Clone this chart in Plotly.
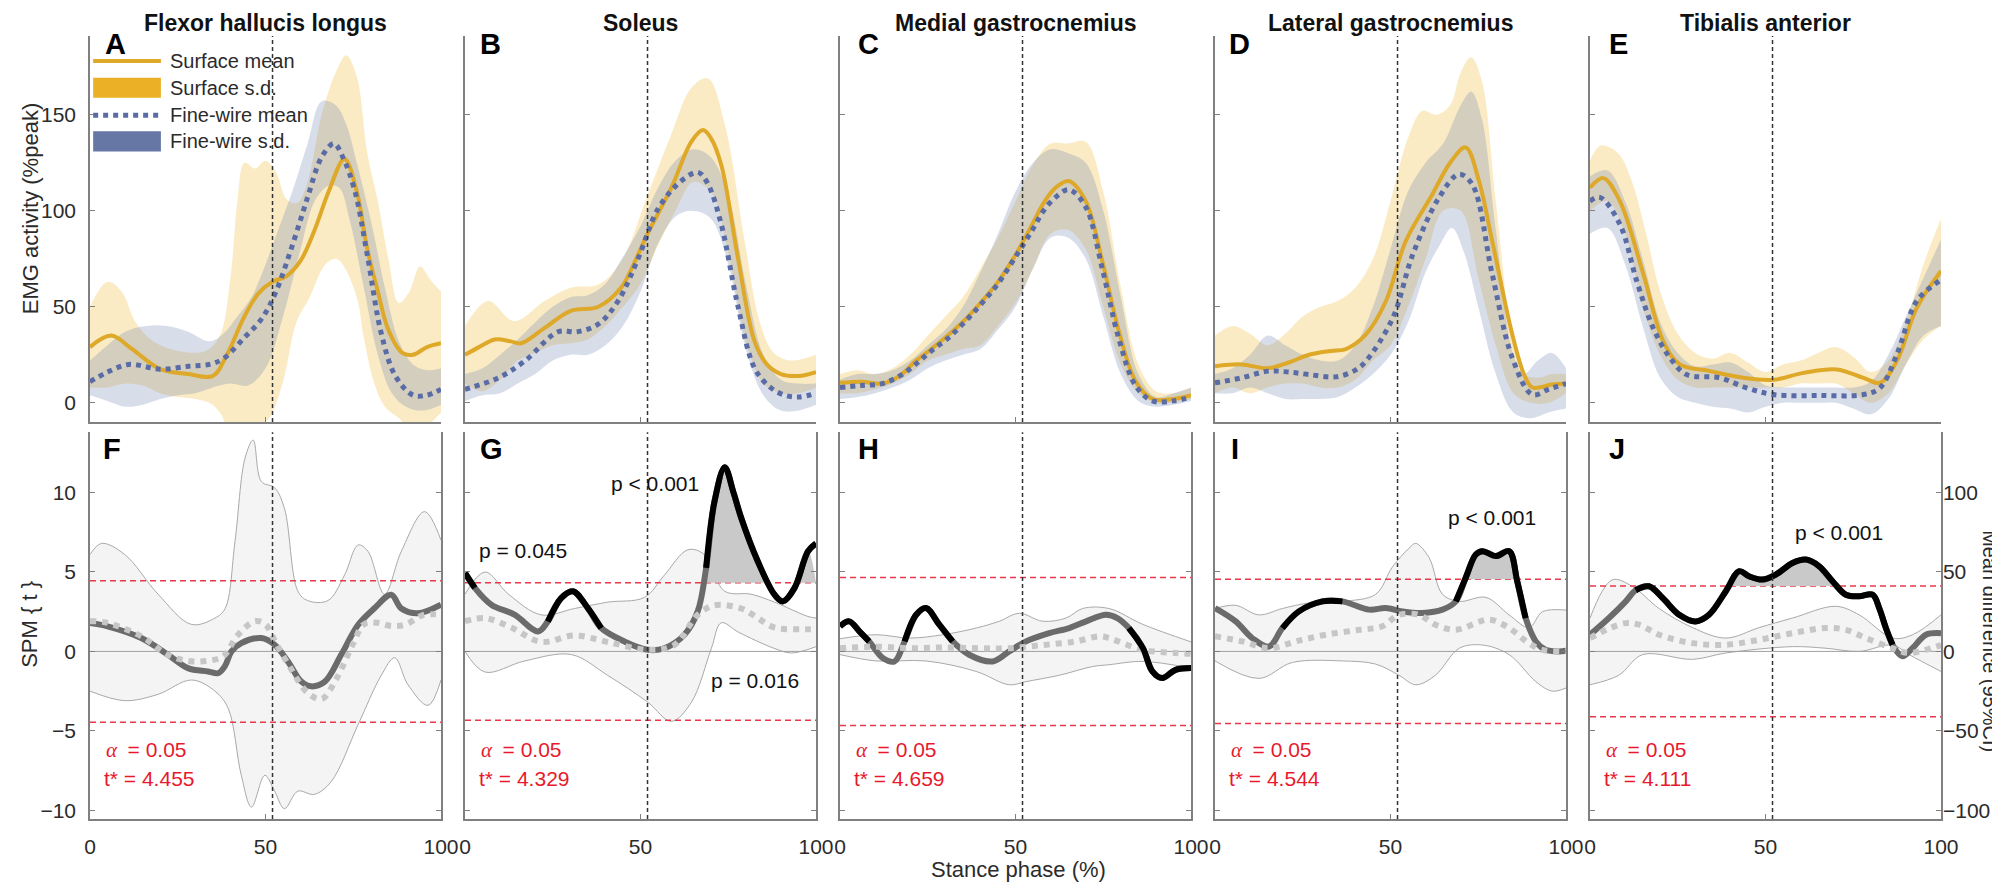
import plotly.graph_objects as go

# ---------------- data ----------------
MUSCLES = ["Flexor hallucis longus", "Soleus", "Medial gastrocnemius",
           "Lateral gastrocnemius", "Tibialis anterior"]
TOP_LETTERS = ["A", "B", "C", "D", "E"]
BOTTOM_LETTERS = ["F", "G", "H", "I", "J"]
T_CRIT = [4.455, 4.329, 4.659, 4.544, 4.111]
ALPHA = 0.05
TOE_OFF = 52  # dashed vertical marker, % stance

# EMG activity (%peak): (stance %, value)
FHL_SURF_MEAN = [(0, 29), (6, 35), (12, 28), (20, 17.5), (28, 15), (35, 14), (39, 25), (44, 45), (48, 57),
                 (52, 63), (56, 66), (60, 74), (64, 90), (68, 110), (72.5, 127), (76, 110), (79, 80),
                 (82, 58), (85, 38), (89, 26), (92, 25), (96, 29), (100, 31)]
FHL_FINE_MEAN = [(0, 11), (5, 16), (11, 20), (20, 17.5), (28, 19), (34, 20), (38, 23), (44, 34), (49, 44),
                 (53, 58), (58, 84), (62, 107), (66, 128), (69.5, 135), (72, 128), (75.5, 110), (79, 77),
                 (83, 36), (87, 14), (92, 4), (96, 4), (100, 7)]
FHL_SURF_HI = [(0, 50), (5, 63), (9, 58), (13, 42), (18, 32), (25, 27), (33, 27), (37, 35), (40, 65),
               (42, 105), (44, 125), (47, 122), (50, 126), (53, 120), (56, 106), (59, 104), (62, 115),
               (66, 150), (70, 172), (73, 181), (76, 170), (79, 130), (82, 105), (85, 75), (88, 52),
               (91, 58), (94, 71), (97, 64), (100, 58)]
FHL_SURF_LO = [(0, 8), (5, 8), (10, 10), (15, 9), (20, 5), (25, 3), (30, 2), (34, 0), (37, -5), (40, -15),
               (44, -15), (48, -12), (51, -8), (55, 11), (58.8, 42), (62.6, 55), (67, 72), (70, 75),
               (72, 72), (76, 55), (78, 34), (81, 10), (84, -2), (88, -8), (92, -15), (96, -12), (100, -5)]
FHL_FINE_HI = [(0, 22), (5, 30), (10, 37), (16, 40), (22, 40), (28, 37), (34, 32), (38, 36), (42, 45),
               (46, 55), (50, 72), (54, 92), (58, 112), (62, 135), (66, 157), (70, 155), (73, 145),
               (76, 125), (80, 95), (84, 60), (88, 32), (92, 20), (96, 17), (100, 18)]
FHL_FINE_LO = [(0, 4), (5, 1), (10, -2), (15, -1), (20, 2), (25, 4), (30, 5), (35, 8), (40, 10), (45, 9),
               (50, 18), (55, 45), (60, 80), (64, 105), (68, 113), (71, 112), (74, 95), (78, 60),
               (82, 25), (86, 5), (90, -2), (95, -4), (100, -1)]

SOL_SURF_MEAN = [(0, 25), (4, 29), (8.5, 33), (13, 32), (16, 31), (22.7, 39), (30, 47.8), (38, 50),
                 (44.5, 60), (48, 72), (52, 88), (58.8, 112), (64.5, 136), (67.8, 142), (70, 138),
                 (73, 124), (77.8, 75), (82.5, 32), (86, 20), (90, 15), (95, 14), (100, 16)]
SOL_FINE_MEAN = [(0, 7), (9.5, 13), (17, 21.7), (26.5, 37), (32, 37), (38, 41), (43.6, 53), (49.3, 75),
                 (55, 101), (61.6, 115.5), (66.4, 120), (69.2, 114), (73, 93), (77.8, 50), (82.5, 18),
                 (87, 8), (91, 4), (95, 3), (100, 5)]
SOL_SURF_HI = [(0, 40), (6.6, 53), (14, 42.5), (22.7, 53), (30.3, 60), (38, 61.6), (44.5, 73.6),
               (52, 108), (58.8, 140), (64.5, 164), (69.2, 169), (74, 145), (79.7, 84), (84, 42),
               (88, 26), (93, 22), (100, 25)]
SOL_SURF_LO = [(0, 10), (5, 6), (10, 12), (15, 22), (20, 26), (25, 30), (30, 31), (35, 33), (40, 40),
               (45, 50), (50, 62), (55, 82), (60, 100), (65, 115), (70, 110), (75, 78), (80, 32),
               (85, 10), (90, 5), (95, 5), (100, 8)]
SOL_FINE_HI = [(0, 15), (5, 18), (10, 25), (15, 33), (20, 42), (25, 50), (30, 55), (35, 56), (40, 62),
               (45, 76), (50, 92), (55, 112), (60, 126), (65, 132), (70, 128), (75, 108), (80, 62),
               (85, 25), (90, 12), (95, 10), (100, 10)]
SOL_FINE_LO = [(0, 1), (5, 4), (10, 5), (15, 10), (20, 15), (25, 22), (30, 25), (35, 25), (40, 30),
               (45, 40), (50, 58), (55, 83), (60, 97), (64.5, 100), (70, 96), (75, 72), (80, 28),
               (85, 4), (90, -4), (95, -4), (100, -1)]

MG_SURF_MEAN = [(0, 10.4), (6, 11), (12, 10), (17, 14), (21.5, 21.7), (26, 28), (31, 35.6), (36, 44),
                (40.5, 53), (45, 63), (50, 77), (54.8, 93), (58, 104), (61.4, 112), (65.2, 115.5),
                (70, 105), (74.7, 74), (79.5, 37), (84.2, 11.3), (89, 2), (95, 2), (100, 4)]
MG_FINE_MEAN = [(0, 8), (6, 9), (12, 10), (17, 14), (21.5, 20), (26, 27), (31, 34), (36, 43),
                (40.5, 52), (45, 62), (50, 76), (54.8, 90), (58, 100), (61.4, 107), (65.2, 111),
                (70, 102), (74.7, 70), (79.5, 33), (84.2, 9), (89, 1), (95, 1), (100, 3)]
MG_SURF_HI = [(0, 15), (5, 17), (10, 15), (15, 18), (20, 25), (25, 35), (30, 45), (35, 55), (40, 70),
              (45, 86), (50, 105), (55, 124), (60, 135), (65, 135), (70, 136), (75, 110), (80, 60),
              (85, 20), (90, 6), (95, 5), (100, 8)]
MG_SURF_LO = [(0, 5), (5, 5), (10, 7), (15, 10), (20, 15), (25, 22), (30, 25), (35, 28), (40, 30),
              (45, 40), (50, 52), (55, 70), (60, 88), (65, 90), (70, 80), (75, 50), (80, 20), (85, 5),
              (90, 0), (95, 0), (100, 2)]
MG_FINE_HI = [(0, 12), (5, 15), (10, 15), (15, 17), (20, 22), (25, 30), (30, 38), (35, 50), (40, 68),
              (45, 88), (50, 110), (55, 125), (60, 132), (65, 130), (70, 125), (75, 100), (80, 55),
              (85, 15), (90, 3), (95, 5), (100, 8)]
MG_FINE_LO = [(0, 2), (5, 3), (10, 5), (15, 8), (20, 12), (25, 18), (30, 22), (35, 25), (40, 28),
              (45, 38), (50, 50), (55, 70), (60, 86), (65, 86), (70, 75), (75, 45), (80, 15), (85, 1),
              (90, -2), (95, -1), (100, 1)]

LG_SURF_MEAN = [(0, 19), (7.6, 20), (15, 18), (21, 21), (26.8, 25), (33, 27), (37.3, 28), (43, 35.6),
                (48.7, 53), (54.3, 84), (61.9, 108.5), (67, 125), (71.4, 133), (75.2, 115.5), (79, 84),
                (84.7, 35.6), (88, 15), (90.4, 8), (96, 9.5), (100, 10)]
LG_FINE_MEAN = [(0, 10.4), (7.6, 13), (15.2, 16.5), (21, 16), (26.8, 14.7), (34.4, 13.5), (40, 17),
                (43, 21.7), (50.6, 44), (56.3, 77), (63.8, 106.8), (69.5, 119), (73.3, 113.7),
                (79, 66.8), (84.7, 23.4), (90.4, 4.3), (95, 7), (100, 10)]
LG_SURF_HI = [(0, 35), (5, 40), (10, 36), (15, 30), (20, 36), (25, 45), (30, 50), (35, 53), (40, 60),
              (45, 75), (50, 105), (55, 138), (59, 152), (63, 150), (67, 155), (70, 172), (73, 180),
              (76, 168), (80, 105), (85, 30), (88, 15), (92, 13), (96, 15), (100, 15)]
LG_SURF_LO = [(0, 5), (5, 8), (10, 5), (15, 8), (20, 10), (25, 10), (30, 8), (35, 8), (40, 12),
              (45, 22), (50, 30), (55, 50), (60, 75), (65, 100), (70, 100), (75, 65), (80, 30),
              (85, 5), (90, 0), (95, 0), (100, 5)]
LG_FINE_HI = [(0, 15), (5, 18), (10, 25), (15, 35), (20, 30), (25, 25), (30, 22), (35, 22), (40, 30),
              (45, 50), (50, 80), (55, 110), (60, 125), (65, 135), (70, 155), (73, 162), (76, 148),
              (80, 90), (85, 25), (88, 15), (92, 22), (96, 26), (100, 18)]
LG_FINE_LO = [(0, 5), (5, 5), (10, 8), (15, 5), (20, 2), (25, 2), (30, 2), (35, 3), (40, 8), (45, 15),
              (50, 25), (55, 42), (60, 68), (64, 82), (67.5, 91), (71, 78), (75, 50), (80, 15),
              (85, -5), (90, -8), (95, -5), (100, -3)]

TA_SURF_MEAN = [(0, 112), (3.8, 117), (8.5, 105), (15.2, 67), (20.9, 32), (25.6, 20), (34.2, 16.5),
                (43.7, 13), (52.3, 12), (60.8, 15.6), (70.3, 17.4), (77.9, 13), (82.6, 10.4),
                (87.4, 21.7), (93.1, 49.5), (100, 68.6)]
TA_FINE_MEAN = [(0, 105), (2.8, 107), (8.5, 93), (13.3, 63.5), (18, 39), (22.8, 23.4), (27.5, 14.7),
                (37, 13), (44.6, 7.8), (52.3, 4.3), (65.5, 3.8), (77.9, 4.3), (82.6, 7.8), (87.4, 25),
                (93.1, 53), (100, 64)]
TA_SURF_HI = [(0, 126), (3, 134), (8, 130), (12, 115), (16, 88), (20, 58), (25, 36), (30, 26), (35, 23),
              (40, 26), (45, 21), (50, 16), (55, 20), (60, 22), (65, 26), (70, 29), (75, 24), (80, 16),
              (85, 22), (90, 42), (95, 72), (100, 96)]
TA_SURF_LO = [(0, 100), (5, 105), (10, 88), (15, 50), (20, 25), (25, 12), (30, 8), (35, 8), (40, 8),
              (45, 8), (50, 8), (55, 8), (60, 10), (65, 10), (70, 10), (75, 5), (80, 0), (85, 5),
              (90, 20), (95, 33), (100, 40)]
TA_FINE_HI = [(0, 118), (5, 121), (10, 105), (15, 75), (20, 42), (25, 26), (30, 19), (35, 20), (40, 21),
              (45, 16), (50, 9), (55, 8), (60, 8), (65, 8), (70, 8), (75, 8), (80, 11), (85, 25),
              (90, 45), (95, 65), (100, 85)]
TA_FINE_LO = [(0, 88), (5, 91), (10, 72), (15, 40), (20, 13), (25, 3), (30, 0), (35, -2), (40, -3),
              (45, -5), (50, -2), (55, 0), (60, 0), (65, 0), (70, 0), (75, -3), (80, -6), (85, 2),
              (90, 20), (95, 35), (100, 40)]

# SPM{t} trajectories: (stance %, t)
FHL_SPM = [(0, 1.79), (5, 1.58), (14.6, 0.84), (22.2, -0.21), (27.9, -1.05), (33.6, -1.26), (36.5, -1.37),
           (38.5, -0.9), (40.3, 0), (43.1, 0.52), (48.8, 0.84), (52.6, 0.42), (56.4, -0.63), (60.2, -1.9),
           (63, -2.2), (66.9, -1.9), (71.6, -0.2), (76.4, 1.68), (81.1, 2.73), (85.8, 3.57), (88.7, 2.7),
           (93.4, 2.4), (100, 2.94)]
SOL_SPM = [(0, 4.94), (2.8, 4.0), (7.5, 2.94), (14.1, 2.31), (20.8, 1.26), (23.6, 1.89), (27.4, 3.36),
           (30.7, 3.79), (35, 2.73), (38.8, 1.47), (45.4, 0.63), (52.1, 0.1), (56.8, 0.2), (62.5, 1.05),
           (66.3, 2.52), (68.7, 5.26), (71.1, 9.46), (74, 11.6), (76.5, 10.0), (78.7, 8.4), (83.4, 5.68),
           (88.2, 3.57), (90.6, 3.15), (93.9, 4.0), (97.7, 6.3), (100, 6.8)]
MG_SPM = [(0, 1.58), (2.6, 1.89), (5.4, 1.3), (8.3, 0.63), (12.2, -0.42), (15.5, -0.63), (18.4, 0.63),
          (21.7, 2.31), (24.5, 2.73), (28.3, 1.68), (32.1, 0.63), (36.8, -0.21), (43.5, -0.63), (48.2, 0),
          (53, 0.63), (59.6, 1.15), (65.3, 1.47), (70.1, 1.89), (75.8, 2.31), (79, 2.1), (82.3, 1.47),
          (86.3, 0.21), (89, -1.26), (91.8, -1.68), (95.6, -1.16), (100, -1.05)]
LG_SPM = [(0, 2.73), (5.9, 1.89), (10.6, 0.84), (15.4, 0.31), (19.2, 1.47), (23.9, 2.52), (30.6, 3.15),
          (36.3, 3.15), (43.9, 2.63), (48.6, 2.73), (53.4, 2.52), (59.1, 2.42), (64.8, 2.63), (68.6, 3.15),
          (71.4, 4.62), (74.3, 6.1), (76.2, 6.31), (80, 6.0), (83.8, 6.31), (86.1, 4.42), (88.5, 2.1),
          (91.4, 0.63), (94.2, 0.1), (98, 0), (100, 0.05)]
TA_SPM = [(0, 1.05), (5.4, 2.1), (10.2, 3.15), (13, 3.85), (16.8, 4.1), (20.7, 3.36), (25.4, 2.31),
          (30.1, 1.89), (33.9, 2.31), (38.7, 3.79), (42.5, 5.05), (45.3, 4.73), (49.1, 4.52), (52.9, 4.83),
          (57.7, 5.57), (61.5, 5.78), (65.3, 5.36), (69.1, 4.42), (72.9, 3.57), (76.7, 3.47), (80.5, 3.57),
          (82.4, 2.73), (84.3, 1.47), (86.2, 0.42), (89, -0.31), (91.9, 0.21), (95.7, 1.05), (100, 1.15)]

# Mean difference and 95% CI (%peak, right axis)
FHL_DIFF = [(0, 19), (5, 18), (15, 9), (22, -2), (28, -6), (33, -6), (38, -3), (42, 10), (47, 19), (50, 17),
            (53, 5), (57, -10), (62, -26), (66, -30), (70, -18), (75, 5), (78, 17), (82, 18), (86, 16),
            (90, 17), (95, 23), (100, 23)]
FHL_CI_HI = [(0, 61), (3.3, 68), (9.9, 61), (19.4, 36), (28.9, 17), (35.6, 21), (38.5, 27), (41.3, 69),
             (44.2, 122), (46.5, 133), (48.8, 107), (52.6, 103), (55.4, 90), (59.2, 38), (62, 32),
             (67.8, 32), (72.5, 48), (76.4, 67), (79.2, 63), (83.9, 36), (88.7, 63), (95.3, 88), (100, 70)]
FHL_CI_LO = [(0, -25), (9.9, -31), (19.4, -27), (28.9, -18), (35.6, -25), (39.4, -36), (43.1, -78),
             (46, -98), (49.8, -78), (52.6, -88), (55.4, -99), (59.2, -88), (63.9, -90), (68.7, -82),
             (76.4, -46), (83, -15), (86.8, -4), (90.6, -21), (96.3, -34), (100, -18)]
SOL_DIFF = [(0, 19), (5.7, 21), (13.2, 15), (21.7, 6), (31.2, 10), (40.6, 6), (52, 1), (59.6, 4),
            (66.3, 23), (71, 29), (78.7, 27), (83.4, 21), (88.2, 15), (97.7, 14), (100, 14)]
SOL_CI_HI = [(0, 36), (5.7, 50), (12.4, 36), (21.7, 23), (31.2, 27), (40.6, 31), (51.1, 34), (56.8, 48),
             (63.5, 64), (68.2, 61), (73.9, 38), (81.5, 36), (88.2, 31), (97.7, 22), (100, 21)]
SOL_CI_LO = [(0, 0), (5.7, -13), (17, -6), (30.3, -2), (40.6, -15), (52.1, -32), (58.8, -44),
             (64.5, -32), (70.2, 2), (73, 18), (78, 12), (88, 2), (93, -1), (100, 3)]
MG_DIFF = [(0, 2), (10, 3), (20, 2), (30, 2.5), (40, 2), (48, 2), (57.7, 4), (67.2, 6.3), (73.9, 9.5),
           (76.6, 8.4), (86.3, 1), (95.6, -1), (100, -1.5)]
MG_CI_HI = [(0, 8), (10.3, 10.5), (19.8, 8.4), (29.3, 10.5), (38.8, 14.7), (45.4, 19), (51.1, 24),
            (57.7, 19), (64.4, 21), (69.1, 27), (76.6, 27), (86.3, 17), (100, 6)]
MG_CI_LO = [(0, -2), (10.3, -6), (24.5, -6), (38.8, -12.6), (48.2, -21), (53, -19), (62.5, -15),
            (72, -9.5), (76.6, -8.4), (86.3, -6.3), (100, -10.5)]
LG_DIFF = [(0, 9.5), (7.8, 6.3), (15.4, 2), (23, 6.3), (31.6, 10.5), (41.1, 13.6), (47.7, 15.8),
           (52.4, 23), (58.1, 23), (62.8, 16.8), (68.6, 13.6), (78.1, 20), (83.8, 14.7), (89.5, 5),
           (93.3, 1), (100, 0)]
LG_CI_HI = [(0, 27), (5.9, 29), (12.5, 23), (19.2, 27), (26.8, 30.5), (36.3, 31.5), (45.8, 36),
            (50.5, 53), (55.3, 65), (57.2, 68), (61, 59), (64.8, 36), (69.6, 31.5), (77.2, 34),
            (83.8, 23), (89.5, 15), (93.3, 25), (100, 26)]
LG_CI_LO = [(0, -6), (12.5, -17), (22, -7), (36.3, -6), (45.8, -8), (52.4, -15), (57.2, -21),
            (62.8, -15), (69.6, 2), (76.2, 4), (83.8, -2), (91.4, -19), (96.1, -25), (100, -23)]
TA_DIFF = [(0, 8.4), (5, 14), (10.2, 17.8), (14, 16.8), (19.7, 10.5), (29.2, 5.2), (38.7, 4.2),
           (48.2, 7.3), (57.7, 11.5), (67.2, 14.7), (72.9, 13.6), (78.6, 8.4), (86.2, 2), (90.9, -1),
           (100, 4)]
TA_CI_HI = [(0, 21), (6.3, 45), (12, 41), (19.7, 27), (29.2, 15), (38.7, 8.4), (48.2, 15), (57.7, 21),
            (70, 28.4), (76.7, 23), (86.2, 8.4), (91.9, 10.5), (100, 23)]
TA_CI_LO = [(0, -21), (8.2, -15), (15, -2), (29.2, -5), (38.7, -1), (57.7, 3), (67.2, 2), (76.7, 0),
            (86.2, 4), (90.9, -2), (100, -12.6)]

# stretches of the SPM curve drawn in black, and supra-threshold clusters
FHL_BLACK, FHL_CLUSTERS = [], []
SOL_BLACK, SOL_CLUSTERS = [(0, 2.8), (23.6, 38.8), (68.7, 100)], [(67.9, 86.5), (94.4, 100)]
MG_BLACK, MG_CLUSTERS = [(0, 8.3), (18.4, 32.1), (82.3, 100)], []
LG_BLACK, LG_CLUSTERS = [(19.2, 36.3), (68.6, 88.5)], [(71.2, 86.0)]
TA_BLACK, TA_CLUSTERS = [(13, 86.2)], [(39.7, 70.3)]

# p-value labels: (text, stance %, t)
SOL_P = [("p = 0.045", 16.5, 6.33), ("p < 0.001", 54, 10.55), ("p = 0.016", 82.5, -1.8)]
LG_P = [("p < 0.001", 79, 8.41)]
TA_P = [("p < 0.001", 71, 7.46)]

TOP = [
    (FHL_SURF_MEAN, FHL_SURF_LO, FHL_SURF_HI, FHL_FINE_MEAN, FHL_FINE_LO, FHL_FINE_HI),
    (SOL_SURF_MEAN, SOL_SURF_LO, SOL_SURF_HI, SOL_FINE_MEAN, SOL_FINE_LO, SOL_FINE_HI),
    (MG_SURF_MEAN, MG_SURF_LO, MG_SURF_HI, MG_FINE_MEAN, MG_FINE_LO, MG_FINE_HI),
    (LG_SURF_MEAN, LG_SURF_LO, LG_SURF_HI, LG_FINE_MEAN, LG_FINE_LO, LG_FINE_HI),
    (TA_SURF_MEAN, TA_SURF_LO, TA_SURF_HI, TA_FINE_MEAN, TA_FINE_LO, TA_FINE_HI),
]
BOTTOM = [
    (FHL_SPM, FHL_DIFF, FHL_CI_LO, FHL_CI_HI, FHL_BLACK, FHL_CLUSTERS, []),
    (SOL_SPM, SOL_DIFF, SOL_CI_LO, SOL_CI_HI, SOL_BLACK, SOL_CLUSTERS, SOL_P),
    (MG_SPM, MG_DIFF, MG_CI_LO, MG_CI_HI, MG_BLACK, MG_CLUSTERS, []),
    (LG_SPM, LG_DIFF, LG_CI_LO, LG_CI_HI, LG_BLACK, LG_CLUSTERS, LG_P),
    (TA_SPM, TA_DIFF, TA_CI_LO, TA_CI_HI, TA_BLACK, TA_CLUSTERS, TA_P),
]

# ---------------- style ----------------
FONT = "Liberation Sans"
AXIS_GREY = "#808080"
TEXT = "#2b2b2b"
ORANGE_LINE = "rgb(222,168,40)"
ORANGE_FILL = "rgba(237,177,32,0.26)"
ORANGE_PATCH = "rgb(236,176,38)"
BLUE_LINE = "rgb(90,108,165)"
BLUE_FILL = "rgba(100,118,170,0.25)"
BLUE_PATCH = "rgb(102,119,166)"
RED = "#e8192c"

TOP_RANGE = [-10, 191]
SPM_RANGE = [-10.55, 13.8]
DIFF_PER_T = 10  # right axis: 10 %peak per unit of t
DIFF_RANGE = [v * DIFF_PER_T for v in SPM_RANGE]

PLOT_W = 1851
COL_STEP = 375 / PLOT_W
COL_W = 351 / PLOT_W
TOP_DOM = [0.507, 1.0]
BOT_DOM = [0.0, 0.494]
LETTER_X_TOP = [0.037, 0.037, 0.045, 0.034, 0.049]
LETTER_X_BOT = [0.031, 0.037, 0.045, 0.040, 0.049]


def xs(pairs):
    return [p[0] for p in pairs]


def ys(pairs, scale=1.0):
    return [p[1] * scale for p in pairs]


def ax(letter, n):
    # plotly names the first axis "x"/"y", the rest "x2", "y3", ...
    return letter if n == 1 else f"{letter}{n}"


def ax_key(letter, n):
    return f"{letter}axis" if n == 1 else f"{letter}axis{n}"


fig = go.Figure()
shapes = []
annotations = []

common_axis = dict(showgrid=False, zeroline=False, showline=True, linecolor=AXIS_GREY, linewidth=1.5,
                   ticks="inside", ticklen=5, tickcolor=AXIS_GREY, tickwidth=1.2,
                   tickfont=dict(family=FONT, size=21, color=TEXT))

layout_axes = {}
for i in range(5):
    x0 = i * COL_STEP
    dom = [x0, min(1.0, x0 + COL_W)]
    tx, ty = ax("x", i + 1), ax("y", i + 1)
    bx, by, ry = ax("x", i + 6), ax("y", i + 6), ax("y", i + 11)

    layout_axes[ax_key("x", i + 1)] = dict(common_axis, domain=dom, range=[0, 100], tickvals=[0, 50, 100],
                                           showticklabels=False, anchor=ty)
    layout_axes[ax_key("y", i + 1)] = dict(common_axis, domain=TOP_DOM, range=TOP_RANGE,
                                           tickvals=[0, 50, 100, 150], showticklabels=(i == 0),
                                           ticklabelstandoff=8, anchor=tx)
    layout_axes[ax_key("x", i + 6)] = dict(common_axis, domain=dom, range=[0, 100], tickvals=[0, 50, 100],
                                           showticklabels=True, ticklabelstandoff=8, anchor=by)
    layout_axes[ax_key("y", i + 6)] = dict(common_axis, domain=BOT_DOM, range=SPM_RANGE,
                                           tickvals=[-10, -5, 0, 5, 10], showticklabels=(i == 0),
                                           ticklabelstandoff=8, anchor=bx)
    layout_axes[ax_key("y", i + 11)] = dict(common_axis, range=DIFF_RANGE, overlaying=by, side="right",
                                            tickvals=[-100, -50, 0, 50, 100], showticklabels=(i == 4),
                                            ticklabelstandoff=-4, anchor=bx)

    # ---- top row: EMG envelopes ----
    s_mean, s_lo, s_hi, f_mean, f_lo, f_hi = TOP[i]
    for lo, hi, fill in ((s_lo, s_hi, ORANGE_FILL), (f_lo, f_hi, BLUE_FILL)):
        fig.add_trace(go.Scatter(x=xs(lo), y=ys(lo), mode="lines", line=dict(width=0, shape="spline"),
                                 xaxis=tx, yaxis=ty, showlegend=False, hoverinfo="skip"))
        fig.add_trace(go.Scatter(x=xs(hi), y=ys(hi), mode="lines", line=dict(width=0, shape="spline"),
                                 fill="tonexty", fillcolor=fill, xaxis=tx, yaxis=ty,
                                 showlegend=False, hoverinfo="skip"))
    fig.add_trace(go.Scatter(x=xs(s_mean), y=ys(s_mean), mode="lines",
                             line=dict(color=ORANGE_LINE, width=4, shape="spline"),
                             xaxis=tx, yaxis=ty, showlegend=False))
    fig.add_trace(go.Scatter(x=xs(f_mean), y=ys(f_mean), mode="lines",
                             line=dict(color=BLUE_LINE, width=5, dash="dot", shape="spline"),
                             xaxis=tx, yaxis=ty, showlegend=False))

    # ---- bottom row: SPM ----
    spm, diff, ci_lo, ci_hi, black, clusters, pvals = BOTTOM[i]
    t = T_CRIT[i]
    k = 1.0 / DIFF_PER_T
    fig.add_trace(go.Scatter(x=xs(ci_lo), y=ys(ci_lo, k), mode="lines",
                             line=dict(color="#a9a9a9", width=1, shape="spline"),
                             xaxis=bx, yaxis=by, showlegend=False, hoverinfo="skip"))
    fig.add_trace(go.Scatter(x=xs(ci_hi), y=ys(ci_hi, k), mode="lines",
                             line=dict(color="#a9a9a9", width=1, shape="spline"),
                             fill="tonexty", fillcolor="#f4f4f4",
                             xaxis=bx, yaxis=by, showlegend=False, hoverinfo="skip"))
    fig.add_trace(go.Scatter(x=[0, 100], y=[0, 0], mode="lines", line=dict(color="#a0a0a0", width=1),
                             xaxis=bx, yaxis=by, showlegend=False, hoverinfo="skip"))
    for sign in (1, -1):
        fig.add_trace(go.Scatter(x=[0, 100], y=[sign * t, sign * t], mode="lines",
                                 line=dict(color="#e8394a", width=1.5, dash="6px,4px"),
                                 xaxis=bx, yaxis=by, showlegend=False, hoverinfo="skip"))
    for a, b in clusters:
        inner = [p for p in spm if a < p[0] < b]
        poly = [(a, t)] + inner + [(b, t)]
        fig.add_trace(go.Scatter(x=xs(poly), y=ys(poly), mode="lines", fill="toself",
                                 fillcolor="#c9c9c9", line=dict(width=0, shape="spline"),
                                 xaxis=bx, yaxis=by, showlegend=False, hoverinfo="skip"))
    fig.add_trace(go.Scatter(x=xs(spm), y=ys(spm), mode="lines",
                             line=dict(color="#6b6b6b", width=6, shape="spline"),
                             xaxis=bx, yaxis=by, showlegend=False))
    fig.add_trace(go.Scatter(x=xs(diff), y=ys(diff, k), mode="lines",
                             line=dict(color="#c6c6c6", width=6, dash="dot", shape="spline"),
                             xaxis=bx, yaxis=by, showlegend=False))
    for a, b in black:
        seg = [p for p in spm if a <= p[0] <= b]
        fig.add_trace(go.Scatter(x=xs(seg), y=ys(seg), mode="lines",
                                 line=dict(color="#000000", width=6, shape="spline"),
                                 xaxis=bx, yaxis=by, showlegend=False))
    # invisible point so the right-hand axis is drawn
    fig.add_trace(go.Scatter(x=[0], y=[0], mode="markers", marker=dict(opacity=0), xaxis=bx, yaxis=ry,
                             showlegend=False, hoverinfo="skip"))

    for text, px, py in pvals:
        annotations.append(dict(text=text, x=px, y=py, xref=bx, yref=by, xanchor="center",
                                yanchor="middle", showarrow=False,
                                font=dict(family=FONT, size=21, color="#111111")))
    annotations.append(dict(text=f'<span style="font-family:Liberation Serif"><i>α</i></span>\u2002= {ALPHA}',
                            x=4.0, y=-6.2, xref=bx, yref=by, xanchor="left", yanchor="middle",
                            showarrow=False, font=dict(family=FONT, size=21, color=RED)))
    annotations.append(dict(text=f"t* = {t:.3f}", x=3.3, y=-8.0, xref=bx, yref=by, xanchor="left",
                            yanchor="middle", showarrow=False, font=dict(family=FONT, size=21, color=RED)))

    # toe-off marker
    for xa, ya in ((tx, ty), (bx, by)):
        shapes.append(dict(type="line", xref=xa, yref=f"{ya} domain", x0=TOE_OFF, x1=TOE_OFF, y0=0, y1=1,
                           line=dict(color="#333333", width=1.5, dash="4px,3px")))

    # titles and panel letters
    annotations.append(dict(text=f"<b>{MUSCLES[i]}</b>", x=x0 + COL_W / 2, y=1.016, xref="paper",
                            yref="paper", xanchor="center", yanchor="middle", showarrow=False,
                            font=dict(family=FONT, size=23, color="#111111")))
    annotations.append(dict(text=f"<b>{TOP_LETTERS[i]}</b>", x=LETTER_X_TOP[i], y=0.979,
                            xref=f"{tx} domain", yref=f"{ty} domain", xanchor="left", yanchor="middle",
                            showarrow=False, font=dict(family=FONT, size=29, color="#000000")))
    annotations.append(dict(text=f"<b>{BOTTOM_LETTERS[i]}</b>", x=LETTER_X_BOT[i], y=0.956,
                            xref=f"{bx} domain", yref=f"{by} domain", xanchor="left", yanchor="middle",
                            showarrow=False, font=dict(family=FONT, size=29, color="#000000")))

# ---------------- legend drawn inside panel A ----------------
LEGEND = [("Surface mean", "line", ORANGE_LINE, "solid"),
          ("Surface s.d.", "rect", ORANGE_PATCH, None),
          ("Fine-wire mean", "line", BLUE_LINE, "dot"),
          ("Fine-wire s.d.", "rect", BLUE_PATCH, None)]
row_y = [0.935, 0.866, 0.795, 0.727]
for (label, kind, color, dash), yc in zip(LEGEND, row_y):
    if kind == "line":
        shapes.append(dict(type="line", xref="x domain", yref="y domain", x0=0.009, x1=0.202, y0=yc, y1=yc,
                           line=dict(color=color, width=4 if dash == "solid" else 5, dash=dash)))
    else:
        shapes.append(dict(type="rect", xref="x domain", yref="y domain", x0=0.009, x1=0.202,
                           y0=yc - 0.026, y1=yc + 0.026, fillcolor=color, line=dict(width=0)))
    annotations.append(dict(text=label, x=0.222, y=yc, xref="x domain", yref="y domain", xanchor="left",
                            yanchor="middle", showarrow=False, font=dict(family=FONT, size=20, color=TEXT)))

# ---------------- axis titles ----------------
annotations += [
    dict(text="EMG activity (%peak)", x=-0.0324, y=0.780, xref="paper", yref="paper", textangle=-90,
         xanchor="center", yanchor="middle", showarrow=False, font=dict(family=FONT, size=22, color=TEXT)),
    dict(text="SPM { t }", x=-0.0324, y=0.248, xref="paper", yref="paper", textangle=-90,
         xanchor="center", yanchor="middle", showarrow=False, font=dict(family=FONT, size=22, color=TEXT)),
    dict(text="Stance phase (%)", x=0.5016, y=-0.064, xref="paper", yref="paper",
         xanchor="center", yanchor="middle", showarrow=False, font=dict(family=FONT, size=22, color=TEXT)),
    dict(text="Mean difference (95%CI)", x=1.0265, y=0.227, xref="paper", yref="paper", textangle=90,
         xanchor="center", yanchor="middle", showarrow=False, font=dict(family=FONT, size=20, color=TEXT)),
]

fig.update_layout(
    width=2000, height=885,
    margin=dict(l=82, r=67, t=28, b=74),
    paper_bgcolor="white", plot_bgcolor="white",
    showlegend=False,
    shapes=shapes, annotations=annotations,
    **layout_axes,
)

fig.write_html("out.html")
